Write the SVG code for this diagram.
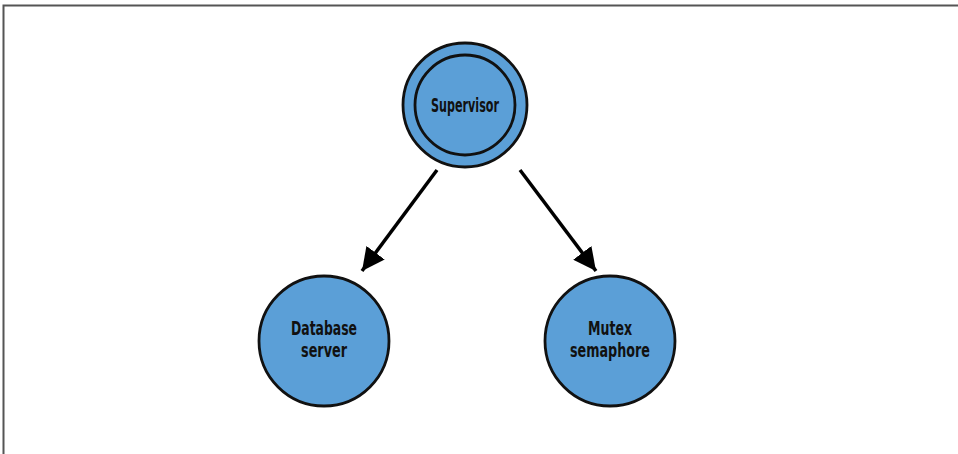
<svg xmlns="http://www.w3.org/2000/svg" width="958" height="454" viewBox="0 0 958 454">
<style>
.node{fill:#5b9fd7;stroke:#111;stroke-width:2.8}
.ring{fill:none;stroke:#111;stroke-width:2.8}
.lbl{font-family:"DejaVu Sans Condensed","DejaVu Sans","Liberation Sans",sans-serif;font-stretch:condensed;font-weight:bold;font-size:20px;fill:#111;text-anchor:middle}
.edge{stroke:#000;stroke-width:3.5;fill:none}
</style>
<defs>
<marker id="arr" viewBox="0 0 10 10" refX="10" refY="5" markerWidth="6.5" markerHeight="6.5" markerUnits="strokeWidth" orient="auto">
<path d="M0,0 L10,5 L0,10 z" fill="#000"/>
</marker>
</defs>
<rect width="958" height="454" fill="#fff"/>
<path d="M3.5,454 V5.5 H958" fill="none" stroke="#555" stroke-width="2"/>
<g id="connectors">
<line class="edge" x1="437" y1="170" x2="362" y2="271" marker-end="url(#arr)"/>
<line class="edge" x1="520" y1="170" x2="596" y2="271" marker-end="url(#arr)"/>
</g>
<g id="supervisor">
<circle class="node" cx="465" cy="105" r="62"/>
<circle class="ring" cx="465" cy="105" r="50"/>
<text class="lbl" x="465" y="112" textLength="68" lengthAdjust="spacingAndGlyphs">Supervisor</text>
</g>
<g id="database">
<circle class="node" cx="324" cy="341" r="65"/>
<text class="lbl" x="324" y="335" textLength="66" lengthAdjust="spacingAndGlyphs">Database</text>
<text class="lbl" x="324" y="357" textLength="46" lengthAdjust="spacingAndGlyphs">server</text>
</g>
<g id="mutex">
<circle class="node" cx="610" cy="341" r="65"/>
<text class="lbl" x="610" y="335" textLength="44" lengthAdjust="spacingAndGlyphs">Mutex</text>
<text class="lbl" x="610" y="357" textLength="80" lengthAdjust="spacingAndGlyphs">semaphore</text>
</g>
</svg>
